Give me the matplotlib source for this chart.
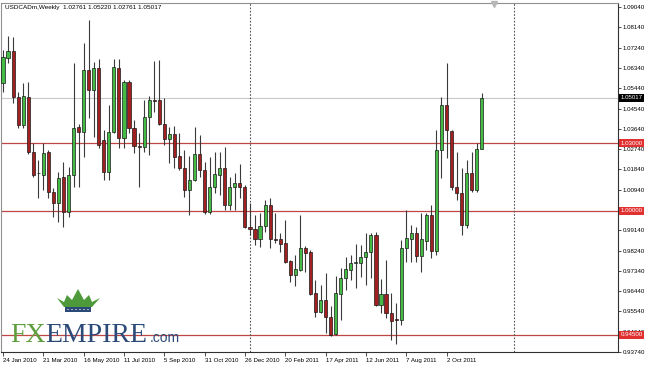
import numpy as np
import matplotlib
matplotlib.use("Agg")
import matplotlib.pyplot as plt
from matplotlib.patches import Polygon, Rectangle, Circle
from matplotlib.transforms import blended_transform_factory

plt.rcParams['font.family'] = ['Liberation Sans', 'DejaVu Sans']

## Weekly USDCAD candles, 24 Jan 2010 onwards
opens = [1.0567, 1.0678, 1.0709, 1.0505, 1.0381, 1.0505, 1.0261, 1.0170, 1.0159, 1.0261,
         1.0084, 1.0035, 1.0150, 0.9995, 1.0159, 1.0372, 1.0350, 1.0625, 1.0536, 1.0634,
         1.0314, 1.0172, 1.0350, 1.0634, 1.0323, 1.0571, 1.0367, 1.0288, 1.0283, 1.0416,
         1.0492, 1.0492, 1.0385, 1.0319, 1.0341, 1.0243, 1.0190, 1.0093, 1.0137, 1.0252,
         1.0181, 0.9995, 1.0106, 1.0159, 1.0190, 1.0026, 1.0106, 1.0124, 1.0106, 0.9928,
         0.9919, 0.9875, 0.9933, 1.0026, 0.9875, 0.9875, 0.9857, 0.9778, 0.9716, 0.9738,
         0.9835, 0.9818, 0.9636, 0.9551, 0.9605, 0.9529, 0.9454, 0.9631, 0.9702, 0.9738,
         0.9769, 0.9769, 0.9795, 0.9818, 0.9893, 0.9582, 0.9631, 0.9547, 0.9521, 0.9516,
         0.9835, 0.9875, 0.9902, 0.9800, 0.9867, 0.9982, 0.9822, 1.0270, 1.0469, 1.0354,
         1.0106, 1.0079, 0.9937, 1.0168, 1.0093, 1.02761]
highs = [1.0713, 1.0775, 1.0771, 1.0527, 1.0567, 1.0571, 1.0301, 1.0225, 1.0301, 1.0270,
         1.0101, 1.0172, 1.0217, 1.0195, 1.0656, 1.0385, 1.0744, 1.0846, 1.0660, 1.0673,
         1.0359, 1.0469, 1.0673, 1.0673, 1.0580, 1.0580, 1.0403, 1.0345, 1.0492, 1.0509,
         1.0665, 1.0669, 1.0500, 1.0372, 1.0376, 1.0345, 1.0270, 1.0243, 1.0372, 1.0336,
         1.0217, 1.0239, 1.0261, 1.0261, 1.0283, 1.0150, 1.0168, 1.0208, 1.0115, 1.0035,
         0.9982, 0.9991, 1.0048, 1.0057, 0.9991, 0.9902, 0.9959, 0.9782, 0.9804, 0.9982,
         0.9844, 0.9826, 0.9693, 0.9671, 0.9724, 0.9578, 0.9711, 0.9747, 0.9795, 0.9804,
         0.9853, 0.9849, 0.9902, 0.9902, 0.9906, 0.9698, 0.9782, 0.9636, 0.9591, 0.9871,
         1.0004, 0.9937, 0.9928, 0.9991, 0.9991, 1.0026, 1.0359, 1.0505, 1.0656, 1.0359,
         1.0261, 1.0190, 1.0225, 1.0261, 1.0301, 1.05220]
lows = [1.0527, 1.0656, 1.0478, 1.0367, 1.0367, 1.0252, 1.0150, 1.0057, 1.0093, 1.0057,
        0.9973, 0.9951, 0.9928, 0.9973, 1.0106, 1.0106, 1.0239, 1.0412, 1.0328, 1.0279,
        1.0137, 1.0137, 1.0345, 1.0279, 1.0279, 1.0345, 1.0257, 1.0106, 1.0261, 1.0248,
        1.0438, 1.0381, 1.0292, 1.0212, 1.0190, 1.0181, 1.0062, 0.9982, 1.0132, 1.0150,
        0.9986, 0.9986, 1.0079, 1.0070, 1.0004, 1.0004, 1.0004, 1.0057, 0.9924, 0.9893,
        0.9849, 0.9840, 0.9906, 0.9835, 0.9857, 0.9818, 0.9769, 0.9685, 0.9667, 0.9733,
        0.9729, 0.9627, 0.9529, 0.9547, 0.9458, 0.9445, 0.9450, 0.9516, 0.9649, 0.9693,
        0.9658, 0.9707, 0.9671, 0.9702, 0.9578, 0.9547, 0.9525, 0.9427, 0.9410, 0.9494,
        0.9773, 0.9773, 0.9773, 0.9729, 0.9826, 0.9791, 0.9804, 1.0146, 1.0235, 1.0093,
        1.0048, 0.9893, 0.9924, 1.0084, 1.0084, 1.02761]
closes = [1.0682, 1.0709, 1.0505, 1.0381, 1.0509, 1.0261, 1.0159, 1.0166, 1.0257, 1.0084,
          1.0035, 1.0146, 0.9995, 1.0159, 1.0367, 1.0350, 1.0625, 1.0536, 1.0634, 1.0292,
          1.0172, 1.0350, 1.0638, 1.0323, 1.0571, 1.0367, 1.0288, 1.0283, 1.0416, 1.0492,
          1.0488, 1.0385, 1.0319, 1.0341, 1.0239, 1.0190, 1.0093, 1.0137, 1.0252, 1.0181,
          0.9995, 1.0106, 1.0163, 1.0190, 1.0026, 1.0106, 1.0124, 1.0106, 0.9928, 0.9919,
          0.9875, 0.9933, 1.0026, 0.9875, 0.9871, 0.9853, 0.9773, 0.9716, 0.9742, 0.9835,
          0.9813, 0.9631, 0.9551, 0.9605, 0.9529, 0.9450, 0.9636, 0.9702, 0.9742, 0.9769,
          0.9773, 0.9795, 0.9818, 0.9893, 0.9582, 0.9631, 0.9547, 0.9512, 0.9516, 0.9835,
          0.9880, 0.9902, 0.9800, 0.9875, 0.9982, 0.9822, 1.0270, 1.0469, 1.0359, 1.0106,
          1.0079, 0.9937, 1.0168, 1.0093, 1.0276, 1.05017]

date_labels = ["24 Jan 2010", "21 Mar 2010", "16 May 2010", "11 Jul 2010", "5 Sep 2010",
               "31 Oct 2010", "26 Dec 2010", "20 Feb 2011", "17 Apr 2011", "12 Jun 2011",
               "7 Aug 2011", "2 Oct 2011"]
price_ticks = [1.09040, 1.08140, 1.07240, 1.06340, 1.05440, 1.04540, 1.03640, 1.02740,
               1.01840, 1.00940, 0.99140, 0.98240, 0.97340, 0.96440, 0.95540, 0.94640, 0.93740]
levels = [1.03000, 1.00000, 0.94500]
last_price = 1.05017
header = "USDCADm,Weekly  1.02761 1.05220 1.02761 1.05017"

## Figure, pixel-matched to the 645x365 screenshot
W, H = 645, 365
fig = plt.figure(figsize=(W / 100, H / 100), dpi=100)
ax = fig.add_axes([1 / W, 13 / H, 617 / W, 349 / H])
step = 5.04
ax.set_xlim((1 - 3) / step, (618 - 3) / step)
ax.set_ylim(0.93740, 1.0922)

x = np.arange(len(opens))
o = np.array(opens); c = np.array(closes)
up = c >= o
green = '#44bb44'
red = '#a32020'

# wicks then bodies
ax.vlines(x, lows, highs, color='#3a3a3a', lw=0.8, zorder=2)
body = np.where(np.abs(c - o) < 0.0003, 0.0003, c - o)
ax.bar(x, body, bottom=o, width=0.62, color=np.where(up, green, red),
       edgecolor='#1a1a1a', linewidth=0.5, zorder=3)

# support / resistance lines and current price
for lv in levels:
    ax.axhline(lv, color='#c04545', lw=0.9, zorder=1)
ax.axhline(last_price, color='#c8c8c8', lw=0.8, zorder=1)

# period separators and chart-shift marker
for sep in [49, 101.4]:
    ax.axvline(sep, color='#555555', lw=0.8, ls=(0, (1.5, 1.5)), zorder=1)
ax.plot([97.4], [1.0919], marker='v', color='#b8b8b8', ms=4, clip_on=False, zorder=4)

# axes styling
for side in ['top', 'left']:
    ax.spines[side].set_color('#909090')
for side in ['right', 'bottom']:
    ax.spines[side].set_color('#303030')
for s in ax.spines.values():
    s.set_linewidth(0.8)

ax.set_xticks(np.arange(0, 8 * len(date_labels), 8))
ax.set_xticklabels(date_labels)
plt.setp(ax.get_xticklabels(), ha='left')
ax.tick_params(axis='x', direction='out', length=3, width=0.6, color='#303030',
               labelsize=4.4, pad=1.2)

ax.yaxis.tick_right()
ax.set_yticks(price_ticks)
ax.set_yticklabels(["%.5f" % p for p in price_ticks])
ax.tick_params(axis='y', direction='out', length=2, width=0.6, color='#303030',
               labelsize=4.4, pad=1.5)

# coloured price boxes on the right scale
tr = blended_transform_factory(ax.transAxes, ax.transData)
for lv in levels:
    ax.text(1.004, lv, "%.5f" % lv, transform=tr, ha='left', va='center', fontsize=4.4,
            color='white', clip_on=False, zorder=6,
            bbox=dict(boxstyle='square,pad=0.25', fc='#e03030', ec='none'))
ax.text(1.004, last_price, "%.5f" % last_price, transform=tr, ha='left', va='center',
        fontsize=4.4, color='white', clip_on=False, zorder=6,
        bbox=dict(boxstyle='square,pad=0.25', fc='black', ec='none'))

# header
fig.text(5 / W, 1 - 7 / H, header, fontsize=4.6, va='center', ha='left', color='black')

# FXEMPIRE logo
def fx(px):
    return px / W

def fy(py):
    return 1 - py / H

crown = [(57, 298), (64, 302), (67, 295), (72, 300), (78, 289), (84, 300), (89, 295),
         (92, 302), (100, 298), (92, 307), (64, 307)]
fig.patches.append(Polygon([(fx(a), fy(b)) for a, b in crown], closed=True,
                           transform=fig.transFigure, fc='#4e9a3a', ec='none'))
fig.patches.append(Rectangle((fx(65), fy(312)), fx(91) - fx(65), fy(307) - fy(312),
                             transform=fig.transFigure, fc='#2c4a78', ec='none'))
for dx in range(68, 90, 4):
    fig.patches.append(Circle((fx(dx), fy(309.5)), 0.8 / W, transform=fig.transFigure,
                              fc='white', ec='none'))

fig.text(fx(10), fy(342), "FX", family='Liberation Serif', fontsize=20,
         color='#5e9e3e', va='baseline', ha='left')
fig.text(fx(45), fy(342), "EMPIRE", family='Liberation Serif', fontsize=20,
         color='#2c4a78', va='baseline', ha='left')
fig.text(fx(150), fy(342), ".com", family='Liberation Sans', fontsize=10,
         color='#2c4a78', va='baseline', ha='left')

fig.savefig("out.png", dpi=100, facecolor='white')
